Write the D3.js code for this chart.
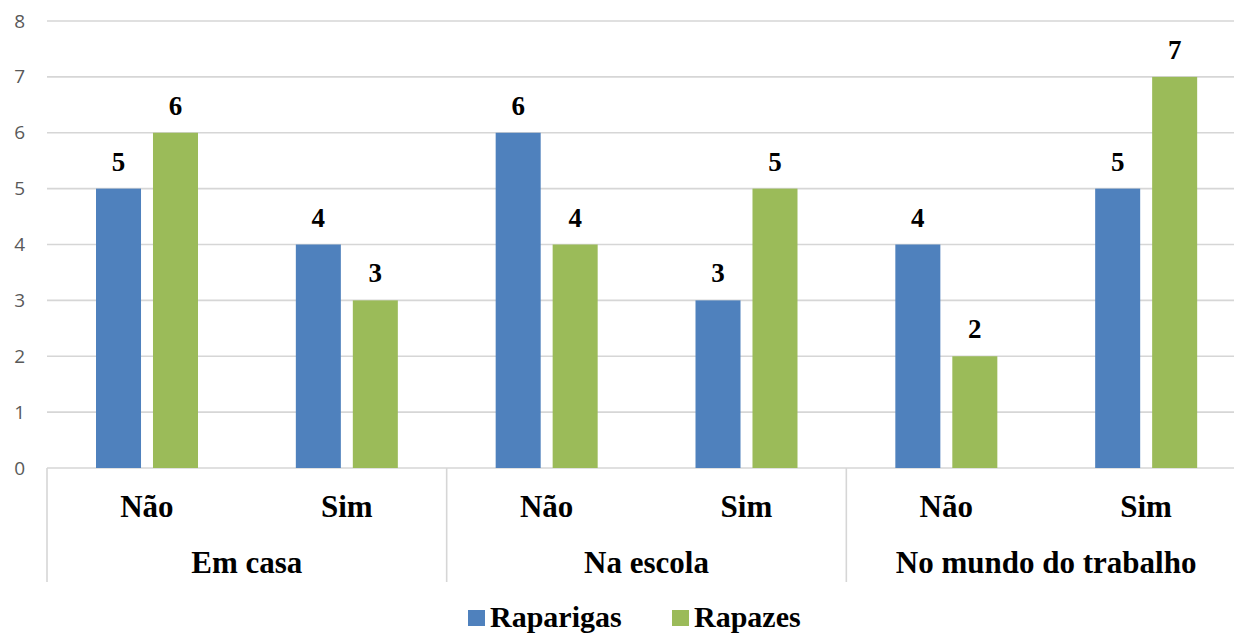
<!DOCTYPE html>
<html>
<head>
<meta charset="utf-8">
<script src="https://cdn.jsdelivr.net/npm/d3@7"></script>
<style>
  html, body { margin: 0; padding: 0; background: #fff; }
  svg { display: block; }
</style>
</head>
<body>
<svg id="chart" width="1234" height="634"></svg>
<script>
// Context groups and the answer within each group
const groups = ["Em casa", "Na escola", "No mundo do trabalho"];
const answers = ["Não", "Sim"];
const seriesNames = ["Raparigas", "Rapazes"];
const seriesColors = ["#4F81BD", "#9BBB59"];

// Counts per (group, answer), in reading order
const raparigas = [5, 4, 6, 3, 4, 5];
const rapazes = [6, 3, 4, 5, 2, 7];

const yTicks = [0, 1, 2, 3, 4, 5, 6, 7, 8];

const svg = d3.select("#chart");
const gridColor = "#D6D6D6";
const serif = "'Liberation Serif', 'Times New Roman', serif";

const y = d3.scaleLinear().domain([0, 8]).range([468, 21]);
const xGroup = d3.scaleBand().domain(groups).range([47, 1246]).padding(0);
const xAnswer = d3.scaleBand().domain(answers).range([0, xGroup.bandwidth()]).padding(0);
const xSeries = d3.scaleBand().domain(seriesNames).range([49, 151]).paddingInner(0.21).paddingOuter(0);

// Horizontal gridlines
svg.append("g")
  .selectAll("line")
  .data(yTicks)
  .join("line")
  .attr("x1", 47).attr("x2", 1234)
  .attr("y1", d => y(d)).attr("y2", d => y(d))
  .attr("stroke", gridColor).attr("stroke-width", 1.6);

// Y axis labels
const yAxis = d3.axisLeft(y).tickValues(yTicks).tickSize(0).tickPadding(0);
const yg = svg.append("g").attr("transform", "translate(25,0)").call(yAxis);
yg.select(".domain").remove();
yg.selectAll("text")
  .attr("font-family", "'Open Sans', 'Liberation Sans', sans-serif")
  .attr("font-size", 19)
  .attr("fill", "#595959");

// Category box separators below the baseline
const edges = groups.map(g => xGroup(g)).concat([xGroup.range()[1]]);
svg.append("g")
  .selectAll("line")
  .data(edges)
  .join("line")
  .attr("x1", d => d).attr("x2", d => d)
  .attr("y1", y(0)).attr("y2", 582)
  .attr("stroke", gridColor).attr("stroke-width", 1.6);

// Build rows from the arrays
const rows = [];
groups.forEach((g, gi) => {
  answers.forEach((a, ai) => {
    const idx = gi * answers.length + ai;
    rows.push({ group: g, answer: a, values: [raparigas[idx], rapazes[idx]] });
  });
});

const cell = svg.append("g")
  .selectAll("g")
  .data(rows)
  .join("g")
  .attr("transform", d => `translate(${xGroup(d.group) + xAnswer(d.answer)},0)`);

cell.selectAll("rect")
  .data(d => d.values.map((v, i) => ({ name: seriesNames[i], value: v, color: seriesColors[i] })))
  .join("rect")
  .attr("x", d => xSeries(d.name))
  .attr("width", xSeries.bandwidth())
  .attr("y", d => y(d.value))
  .attr("height", d => y(0) - y(d.value))
  .attr("fill", d => d.color);

cell.selectAll("text.value")
  .data(d => d.values.map((v, i) => ({ name: seriesNames[i], value: v })))
  .join("text")
  .attr("class", "value")
  .attr("x", d => xSeries(d.name) + xSeries.bandwidth() / 2)
  .attr("y", d => y(d.value) - 18)
  .attr("text-anchor", "middle")
  .attr("font-family", serif)
  .attr("font-weight", "bold")
  .attr("font-size", 27)
  .attr("fill", "#000")
  .text(d => d.value);

// Answer labels
cell.append("text")
  .attr("x", xAnswer.bandwidth() / 2)
  .attr("y", 517)
  .attr("text-anchor", "middle")
  .attr("font-family", serif)
  .attr("font-weight", "bold")
  .attr("font-size", 31)
  .attr("fill", "#000")
  .text(d => d.answer);

// Group labels
svg.append("g")
  .selectAll("text")
  .data(groups)
  .join("text")
  .attr("x", d => xGroup(d) + xGroup.bandwidth() / 2)
  .attr("y", 573)
  .attr("text-anchor", "middle")
  .attr("font-family", serif)
  .attr("font-weight", "bold")
  .attr("font-size", 31)
  .attr("fill", "#000")
  .text(d => d);

// Legend
const legendItems = [
  { name: seriesNames[0], color: seriesColors[0], x: 468 },
  { name: seriesNames[1], color: seriesColors[1], x: 672 }
];
const lg = svg.append("g")
  .selectAll("g")
  .data(legendItems)
  .join("g")
  .attr("transform", d => `translate(${d.x},0)`);
lg.append("rect")
  .attr("x", 0).attr("y", 610)
  .attr("width", 17).attr("height", 16)
  .attr("fill", d => d.color);
lg.append("text")
  .attr("x", 22).attr("y", 627)
  .attr("font-family", serif)
  .attr("font-weight", "bold")
  .attr("font-size", 30)
  .attr("fill", "#000")
  .text(d => d.name);
</script>
</body>
</html>
